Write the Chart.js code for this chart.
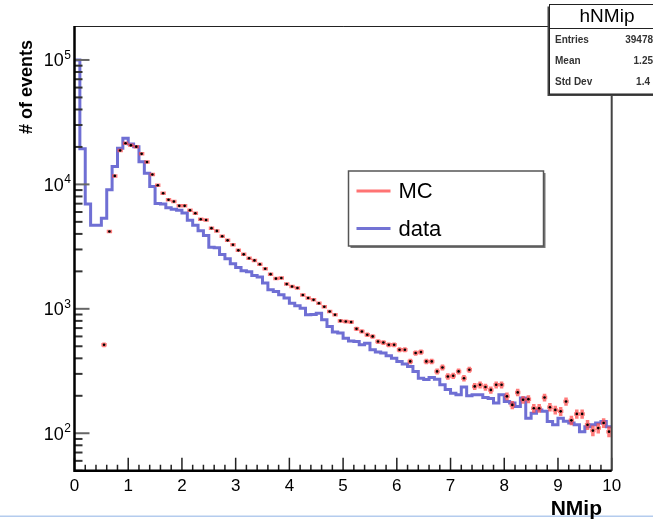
<!DOCTYPE html>
<html>
<head>
<meta charset="utf-8">
<title>hNMip</title>
<script src="https://cdn.jsdelivr.net/npm/chart.js@4.4.1/dist/chart.umd.min.js"></script>
<style>
  html, body { margin: 0; padding: 0; background: #fff; }
  #wrap { position: relative; width: 653px; height: 519px; }
</style>
</head>
<body>
<div id="wrap"><canvas id="nmip" width="653" height="519"></canvas></div>
<script>
// NMip histogram, 100 bins of 0.1 from 0 to 10
const binWidth = 0.1;

const dataCounts = [
  100000, 19300, 6970, 4700, 4700, 5350, 9040, 13900, 19500, 23500,
  21100, 20100, 15200, 12300, 9600, 7030, 6950, 6500, 6300, 6200,
  5900, 5150, 4700, 4250, 3880, 3130, 3100, 2730, 2520, 2300,
  2150, 2020, 1990, 1850, 1800, 1610, 1420, 1380, 1300, 1220,
  1110, 1060, 1010, 896, 900, 923, 817, 721, 650, 640,
  580, 550, 546, 514, 530, 469, 450, 441, 420, 400,
  378, 360, 344, 314, 277, 270, 281, 272, 245, 225,
  210, 204, 235, 200, 204, 204, 194, 190, 175, 204,
  180, 175, 164, 192, 132, 145, 154, 150, 124, 117,
  132, 125, 121, 117, 103, 113, 117, 121, 124, 113
];

const mcCounts = [
  null, null, null, null, null, 514, 4180, 11700, 18700, 21400,
  20600, 20100, 17600, 15100, 12000, 9850, 8500, 7520, 7280, 6720,
  6720, 6200, 5870, 5250, 5180, 4450, 4230, 3830, 3550, 3270,
  2950, 2740, 2550, 2450, 2280, 2100, 1900, 1750, 1770, 1580,
  1510, 1470, 1290, 1220, 1180, 1110, 1040, 951, 896, 800,
  791, 782, 690, 658, 619, 600, 546, 536, 514, 514,
  469, 469, 378, 441, 449, 378, 378, 314, 338, 286,
  290, 314, 277, 324, 238, 245, 235, 223, 245, 245,
  198, 169, 213, 186, 188, 159, 159, 194, 162, 154,
  150, 180, 127, 143, 143, 117, 105, 110, 121, 103
];

const decades = [2, 3, 4, 5];
const statsRows = [['Entries', '39478'], ['Mean', '1.25'], ['Std Dev', '1.4']];

const FONT = '"Liberation Sans", Arial, Helvetica, sans-serif';
const dataColor = 'rgba(70, 70, 200, 0.78)';
const mcColor = 'rgba(255, 70, 70, 0.72)';

const legendItems = [
  { label: 'MC', color: 'rgba(255, 90, 90, 0.85)' },
  { label: 'data', color: 'rgba(90, 90, 205, 0.85)' }
];

// histogram outline: one point per left bin edge, plus the closing edge
const dataPoints = dataCounts.map((v, i) => ({ x: i * binWidth, y: v }));
dataPoints.push({ x: dataCounts.length * binWidth, y: dataCounts[dataCounts.length - 1] });

// MC drawn as markers at bin centres with stat errors
const mcPoints = [];
mcCounts.forEach((v, i) => {
  if (v != null) mcPoints.push({ x: (i + 0.5) * binWidth, y: v, err: Math.sqrt(v) });
});

const errorBars = {
  id: 'errorBars',
  beforeDatasetDraw(chart, args) {
    if (args.index !== 0) return;
    const { ctx, chartArea, scales: { x, y } } = chart;
    ctx.save();
    ctx.beginPath();
    ctx.rect(chartArea.left, chartArea.top, chartArea.width, chartArea.height);
    ctx.clip();
    ctx.strokeStyle = mcColor;
    ctx.lineWidth = 3.5;
    ctx.beginPath();
    mcPoints.forEach(p => {
      const px = x.getPixelForValue(p.x);
      const py = y.getPixelForValue(p.y);
      ctx.moveTo(x.getPixelForValue(p.x - binWidth / 2), py);
      ctx.lineTo(x.getPixelForValue(p.x + binWidth / 2), py);
      ctx.moveTo(px, y.getPixelForValue(p.y - p.err));
      ctx.lineTo(px, y.getPixelForValue(p.y + p.err));
    });
    ctx.stroke();
    ctx.restore();
  }
};

// frame, inward ticks, log labels, titles, legend and stats box
const rootStyle = {
  id: 'rootStyle',
  afterDraw(chart) {
    const { ctx, chartArea: a, scales: { x, y } } = chart;
    ctx.save();

    // ticks on the x axis, pointing into the pad
    ctx.strokeStyle = '#222';
    ctx.lineWidth = 1.5;
    ctx.beginPath();
    for (let j = 0; j <= 50; j++) {
      const px = x.getPixelForValue(j * 0.2);
      const len = j % 5 === 0 ? 13 : 6;
      ctx.moveTo(px, a.bottom);
      ctx.lineTo(px, a.bottom - len);
    }
    ctx.stroke();

    // log ticks on the y axis
    for (let k = 1; k <= 5; k++) {
      for (let m = 1; m <= 9; m++) {
        const v = m * Math.pow(10, k);
        if (v < y.min || v > y.max) continue;
        const py = y.getPixelForValue(v);
        ctx.strokeStyle = m === 1 ? '#666' : '#333';
        ctx.lineWidth = 2;
        ctx.beginPath();
        ctx.moveTo(a.left, py);
        ctx.lineTo(a.left + (m === 1 ? 15 : 8), py);
        ctx.stroke();
      }
    }

    // frame
    ctx.strokeStyle = '#222';
    ctx.lineWidth = 1;
    ctx.beginPath();
    ctx.moveTo(a.left, a.top + 0.5);
    ctx.lineTo(a.right, a.top + 0.5);
    ctx.stroke();
    ctx.strokeStyle = '#444';
    ctx.lineWidth = 2;
    ctx.beginPath();
    ctx.moveTo(a.right, a.top);
    ctx.lineTo(a.right, a.bottom);
    ctx.stroke();
    ctx.strokeStyle = '#000';
    ctx.lineWidth = 2.5;
    ctx.beginPath();
    ctx.moveTo(a.left, a.top);
    ctx.lineTo(a.left, a.bottom);
    ctx.lineTo(a.right, a.bottom);
    ctx.stroke();

    // y labels: 10 with superscript exponent
    ctx.fillStyle = '#000';
    decades.forEach(k => {
      const py = y.getPixelForValue(Math.pow(10, k));
      const right = 71;
      ctx.font = `12px ${FONT}`;
      const supW = ctx.measureText(String(k)).width;
      ctx.textAlign = 'left';
      ctx.textBaseline = 'alphabetic';
      ctx.fillText(String(k), right - supW, py - 1);
      ctx.font = `18px ${FONT}`;
      ctx.textAlign = 'right';
      ctx.textBaseline = 'middle';
      ctx.fillText('10', right - supW - 0.5, py + 1.5);
    });

    // axis titles
    ctx.font = `bold 18px ${FONT}`;
    ctx.save();
    ctx.translate(27, 40);
    ctx.rotate(-Math.PI / 2);
    ctx.textAlign = 'right';
    ctx.textBaseline = 'middle';
    ctx.fillText('# of events', 0, 0);
    ctx.restore();

    ctx.fillStyle = '#b4ccee';
    ctx.fillRect(0, 515.5, chart.width, 1.5);

    ctx.fillStyle = '#000';
    ctx.font = `bold 21px ${FONT}`;
    ctx.textAlign = 'right';
    ctx.textBaseline = 'alphabetic';
    ctx.fillText('NMip', 602, 515);

    // legend
    const lg = { x: 348.5, y: 171, w: 195, h: 75 };
    ctx.fillStyle = '#777';
    ctx.fillRect(lg.x + 2, lg.y + 2, lg.w, lg.h);
    ctx.fillStyle = '#fff';
    ctx.fillRect(lg.x, lg.y, lg.w, lg.h);
    ctx.strokeStyle = '#555';
    ctx.lineWidth = 1.5;
    ctx.strokeRect(lg.x, lg.y, lg.w, lg.h);
    legendItems.forEach((it, i) => {
      const ly = lg.y + 20 + i * 37.5;
      ctx.strokeStyle = it.color;
      ctx.lineWidth = 3;
      ctx.beginPath();
      ctx.moveTo(lg.x + 8, ly);
      ctx.lineTo(lg.x + 42, ly);
      ctx.stroke();
      ctx.fillStyle = '#000';
      ctx.font = `22px ${FONT}`;
      ctx.textAlign = 'left';
      ctx.textBaseline = 'middle';
      ctx.fillText(it.label, lg.x + 50, ly + 1);
    });

    // stats box
    const sb = { x: 549.5, y: 4.5, w: 110, h: 89.5 };
    ctx.fillStyle = '#444';
    ctx.fillRect(sb.x - 2, sb.y + 2, sb.w, sb.h);
    ctx.fillStyle = '#fff';
    ctx.fillRect(sb.x, sb.y, sb.w, sb.h);
    ctx.strokeStyle = '#222';
    ctx.lineWidth = 1;
    ctx.strokeRect(sb.x, sb.y, sb.w, sb.h);
    ctx.beginPath();
    ctx.moveTo(sb.x, 28.5);
    ctx.lineTo(sb.x + sb.w, 28.5);
    ctx.stroke();
    ctx.fillStyle = '#000';
    ctx.font = `19px ${FONT}`;
    ctx.textAlign = 'center';
    ctx.textBaseline = 'alphabetic';
    ctx.fillText('hNMip', 607, 22);
    ctx.font = `bold 10px ${FONT}`;
    ctx.fillStyle = '#333';
    statsRows.forEach((r, i) => {
      const ry = 43 + i * 21;
      ctx.textAlign = 'left';
      ctx.fillText(r[0], 555, ry);
      ctx.textAlign = 'right';
      ctx.fillText(r[1], i === 2 ? 650 : 653, ry);
    });

    ctx.restore();
  }
};

new Chart(document.getElementById('nmip'), {
  type: 'line',
  data: {
    datasets: [
      {
        label: 'MC',
        data: mcPoints,
        showLine: false,
        pointRadius: 1.3,
        pointBackgroundColor: '#000',
        pointBorderWidth: 0
      },
      {
        label: 'data',
        data: dataPoints,
        stepped: 'before',
        borderColor: dataColor,
        borderWidth: 3,
        pointRadius: 0,
        fill: false
      }
    ]
  },
  options: {
    responsive: false,
    animation: false,
    devicePixelRatio: 1,
    layout: { padding: { left: 0, right: 41.3, top: 26, bottom: 0 } },
    plugins: {
      legend: { display: false },
      tooltip: { enabled: false }
    },
    scales: {
      x: {
        type: 'linear',
        min: 0,
        max: 10,
        grid: { display: false },
        border: { display: false },
        ticks: {
          stepSize: 1,
          autoSkip: false,
          maxRotation: 0,
          padding: -3,
          color: '#000',
          font: { size: 17, family: FONT }
        },
        afterFit: (s) => { s.height = 48.3; }
      },
      y: {
        type: 'logarithmic',
        min: 50,
        max: 187500,
        grid: { display: false },
        border: { display: false },
        ticks: { display: false },
        afterFit: (s) => { s.width = 74.5; }
      }
    }
  },
  plugins: [errorBars, rootStyle]
});
</script>
</body>
</html>
